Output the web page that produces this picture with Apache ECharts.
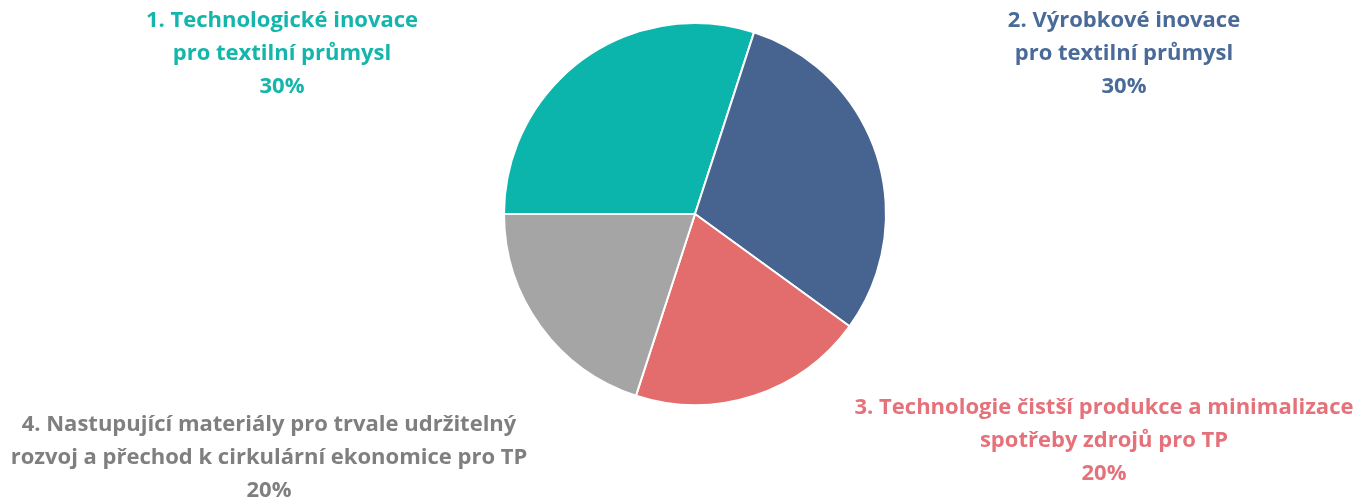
<!DOCTYPE html>
<html>
<head>
<meta charset="utf-8">
<script src="https://cdn.jsdelivr.net/npm/echarts@6/dist/echarts.min.js"></script>
<style>
  html, body { margin: 0; padding: 0; background: #fff; }
  #pie { width: 1357px; height: 499px; }
</style>
</head>
<body>
<div id="pie"></div>
<script>
// data
const names = [
  '1. Technologické inovace\npro textilní průmysl',
  '2. Výrobkové inovace\npro textilní průmysl',
  '3. Technologie čistší produkce a minimalizace\nspotřeby zdrojů pro TP',
  '4. Nastupující materiály pro trvale udržitelný\nrozvoj a přechod k cirkulární ekonomice pro TP'
];
const values = [30, 30, 20, 20];
const sliceColors = ['#0bb5ac', '#46648f', '#e36c6d', '#a5a5a5'];
const textColors = ['#14b5aa', '#4a6a98', '#e5727a', '#7f7f7f'];

// label block centres
const labelPos = [[282, 54], [1124, 54], [1104, 441], [269, 458]];

const chart = echarts.init(document.getElementById('pie'));
const option = {
  animation: false,
  series: [
    {
      type: 'pie',
      center: [695, 214],
      radius: 191,
      startAngle: 180,
      clockwise: true,
      itemStyle: { borderColor: '#fff', borderWidth: 2 },
      label: {
        show: true,
        position: 'outside',
        formatter: '{b}\n{c}%',
        fontFamily: 'Open Sans',
        fontWeight: 'bold',
        fontSize: 22,
        lineHeight: 33,
        align: 'center',
        overflow: 'none'
      },
      labelLine: { show: false },
      labelLayout: p => ({
        x: labelPos[p.dataIndex][0],
        y: labelPos[p.dataIndex][1],
        align: 'center',
        verticalAlign: 'middle'
      }),
      data: names.map((n, i) => ({
        name: n,
        value: values[i],
        itemStyle: { color: sliceColors[i] },
        label: { color: textColors[i] }
      }))
    }
  ]
};
chart.setOption(option);
</script>
</body>
</html>
